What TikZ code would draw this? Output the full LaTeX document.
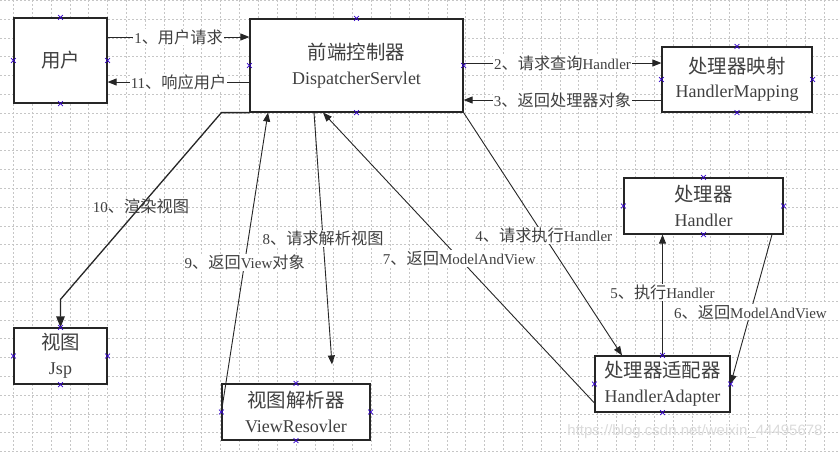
\documentclass[tikz,border=0pt]{standalone}
\usepackage{fontspec}
\setmainfont{Liberation Serif}
\newfontfamily\cj[Scale=1.08]{Noto Sans CJK SC}
\newfontfamily\wmfont{Liberation Sans}
\usetikzlibrary{arrows.meta}
\newcommand\xmk[1]{\foreach \a in {north,south,east,west}{%
  \draw[xmark] ([shift={(-2.4pt,-2.4pt)}]#1.\a) -- ++(4.8pt,4.8pt)
               ([shift={(-2.4pt,2.4pt)}]#1.\a) -- ++(4.8pt,-4.8pt);}}
\begin{document}
\begin{tikzpicture}[x=1pt,y=-1pt,
  gridline/.style={draw=gray!45, line width=0.5pt, dash pattern=on 2pt off 2pt},
  box/.style={draw=black!85, line width=1.2pt, fill=white, align=center, inner sep=0pt,
              text=black!75, font=\fontsize{18}{24.5}\selectfont},
  arr/.style={draw=black!85, line width=0.9pt, -{Triangle[length=9pt,width=7pt]}},
  lbl/.style={fill=white, inner sep=0.8pt, text=black!75, font=\fontsize{15}{17}\selectfont},
  xmark/.style={draw=blue!60!violet, line width=0.7pt}]
\useasboundingbox (0,0) rectangle (840,451);
\fill[white] (0,0) rectangle (840,451);
% grid
\foreach \i in {0,...,44} \draw[gridline] ({13.2+18.85*\i},0) -- ({13.2+18.85*\i},451);
\foreach \j in {0,...,24} \draw[gridline] (0,{0.3+18.8*\j}) -- (840,{0.3+18.8*\j});
% boxes
\node[box, minimum width=93pt, minimum height=85pt] (u) at (60.5,60.5) {\cj 用户};
\node[box, minimum width=213pt, minimum height=93pt] (ds) at (356.5,65.5) {{\cj 前端控制器}\\DispatcherServlet};
\node[box, minimum width=150pt, minimum height=65pt] (hm) at (737,79.5) {{\cj 处理器映射}\\HandlerMapping};
\node[box, minimum width=159pt, minimum height=56pt] (h) at (703.5,206) {{\cj 处理器}\\Handler};
\node[box, minimum width=135pt, minimum height=56pt] (ha) at (662.5,384) {{\cj 处理器适配器}\\HandlerAdapter};
\node[box, minimum width=93pt, minimum height=56pt] (jsp) at (60.5,356) {{\cj 视图}\\Jsp};
\node[box, minimum width=148pt, minimum height=56pt] (vr) at (296,412) {{\cj 视图解析器}\\ViewResovler};
% connectors
\draw[arr] ([yshift=23.5pt]u.east) -- ([yshift=28.5pt]ds.west)
  node[lbl, pos=0.5] {1{\cj 、用户请求}};
\draw[arr] ([yshift=-16.5pt]ds.west) -- ([yshift=-21.5pt]u.east)
  node[lbl, pos=0.5] {11{\cj 、响应用户}};
\draw[arr] ([yshift=2.5pt]ds.east) -- ([yshift=16.5pt]hm.west)
  node[lbl, pos=0.5] {2{\cj 、请求查询}Handler};
\draw[arr] ([yshift=-20.5pt]hm.west) -- ([yshift=-34.5pt]ds.east)
  node[lbl, pos=0.5] {3{\cj 、返回处理器对象}};
\draw[arr] (ds.south east) -- ([xshift=-40.5pt]ha.north)
  node[lbl, pos=0.506] {4{\cj 、请求执行}Handler};
\draw[arr] (ha.north) -- ([xshift=-41pt]h.south)
  node[lbl, pos=0.52] {5{\cj 、执行}Handler};
\draw[arr] ([xshift=68.5pt]h.south) -- (ha.east)
  node[lbl, pos=0.52] {6{\cj 、返回}ModelAndView};
\draw[arr] ([yshift=-19pt]ha.west) -- ([xshift=-33.5pt]ds.south)
  node[lbl, pos=0.498] {7{\cj 、返回}ModelAndView};
\draw[arr] ([xshift=-42.5pt]ds.south) -- ([xshift=36pt,yshift=19pt]vr.north)
  node[lbl, pos=0.5] {8{\cj 、请求解析视图}};
\draw[arr] (vr.west) -- ([xshift=-88.5pt]ds.south)
  node[lbl, pos=0.5] {9{\cj 、返回}View{\cj 对象}};
\draw[arr, line width=1.3pt, -{Triangle[length=11pt,width=8.5pt]}]
  (ds.south west) -- ([xshift=-28pt]ds.south west) -- ([yshift=28pt]jsp.north)
  node[lbl, fill=none, pos=0.5] {10{\cj 、渲染视图}} -- (jsp.north);
% connection point markers
\xmk{u}\xmk{ds}\xmk{hm}\xmk{h}\xmk{ha}\xmk{jsp}\xmk{vr}
% watermark
\node[text=gray!28, font=\wmfont\fontsize{15}{18}\selectfont] (wm) at (695,432) {https://blog.csdn.net/weixin\_44495678};
\end{tikzpicture}
\end{document}
